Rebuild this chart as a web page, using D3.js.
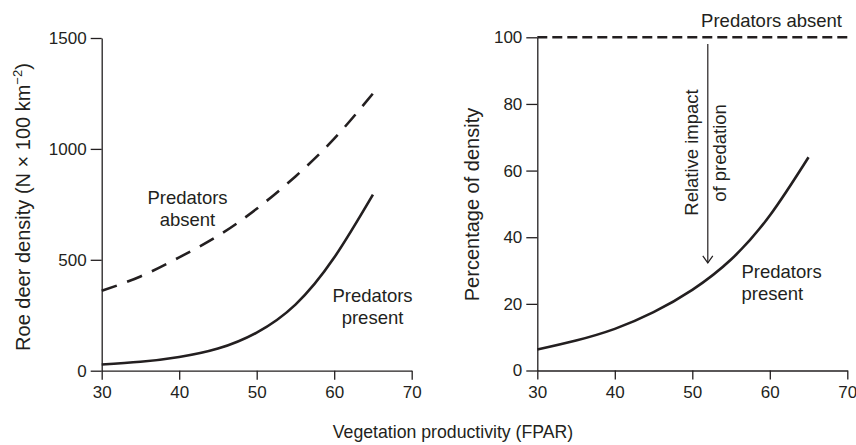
<!DOCTYPE html>
<html>
<head>
<meta charset="utf-8">
<script src="https://cdn.jsdelivr.net/npm/d3@7"></script>
<style>
  body { margin: 0; background: #fff; }
  svg text { font-family: "Liberation Sans", Arial, Helvetica, sans-serif; fill: #231f20; }
</style>
</head>
<body>
<script>
var WIDTH = 856;
var HEIGHT = 445;
var INK = "#231f20";

// x values (FPAR)
var fpar = [30, 35, 40, 45, 50, 55, 60, 65];
// left panel: roe deer density
var densityAbsent = [360, 425, 511, 608, 730, 876, 1046, 1250];
var densityPresent = [28, 40, 62, 100, 172, 298, 510, 794];
// right panel: percentage of density
var pctPresent = [6.3, 9.0, 12.5, 17.5, 24.2, 33.3, 46.5, 64];
var pctAbsentX = [30, 70];
var pctAbsent = [100, 100];

var xTicks = [30, 40, 50, 60, 70];
var leftYTicks = [0, 500, 1000, 1500];
var rightYTicks = [0, 20, 40, 60, 80, 100];

var svg = d3.select("body")
  .append("svg")
  .attr("width", WIDTH)
  .attr("height", HEIGHT);

function toPoints(xs, ys) {
  let arr = [];
  for (let i = 0; i < xs.length; i++) {
    arr.push({ x: xs[i], y: ys[i] });
  }
  return arr;
}

function drawAxes(x, y, yTicks) {
  let fmt = d3.format("d");
  let gx = svg.append("g")
    .attr("transform", "translate(0," + y.range()[0] + ")")
    .call(d3.axisBottom(x).tickValues(xTicks).tickFormat(fmt).tickSize(9).tickSizeOuter(0).tickPadding(6));
  let gy = svg.append("g")
    .attr("transform", "translate(" + x.range()[0] + ",0)")
    .call(d3.axisLeft(y).tickValues(yTicks).tickFormat(fmt).tickSize(11).tickSizeOuter(0).tickPadding(4));
  [gx, gy].forEach(function (g) {
    g.select(".domain").attr("stroke", INK).attr("stroke-width", 1.3);
    g.selectAll(".tick line").attr("stroke", INK).attr("stroke-width", 1.3);
    g.selectAll(".tick text")
      .attr("font-size", 17)
      .attr("fill", INK);
  });
}

function curve(x, y, pts, dash) {
  let line = d3.line()
    .x(function (d) { return x(d.x); })
    .y(function (d) { return y(d.y); })
    .curve(d3.curveNatural);
  let p = svg.append("path")
    .datum(pts)
    .attr("d", line)
    .attr("fill", "none")
    .attr("stroke", INK)
    .attr("stroke-width", 2.6);
  if (dash) p.attr("stroke-dasharray", dash);
  return p;
}

function label(x, y, lines, anchor, size) {
  let t = svg.append("text")
    .attr("text-anchor", anchor)
    .attr("font-size", size);
  lines.forEach(function (s, i) {
    t.append("tspan").attr("x", x).attr("y", y + i * 22).text(s);
  });
}

// ---- left panel ----
var xL = d3.scaleLinear().domain([30, 70]).range([101.7, 411.7]);
var yL = d3.scaleLinear().domain([0, 1500]).range([370.7, 38]);
drawAxes(xL, yL, leftYTicks);
curve(xL, yL, toPoints(fpar, densityAbsent), "16,11");
curve(xL, yL, toPoints(fpar, densityPresent));

label(187.5, 204, ["Predators", "absent"], "middle", 18.5);
label(372.5, 301.5, ["Predators", "present"], "middle", 18.5);

var yt = svg.append("text")
  .attr("transform", "translate(30,207) rotate(-90)")
  .attr("text-anchor", "middle")
  .attr("font-size", 20);
yt.append("tspan").text("Roe deer density (N \u00d7 100 km");
yt.append("tspan").attr("font-size", 13).attr("dy", -8).text("\u22122");
yt.append("tspan").attr("dy", 8).text(")");

// ---- right panel ----
var xR = d3.scaleLinear().domain([30, 70]).range([537.3, 847.3]);
var yR = d3.scaleLinear().domain([0, 100]).range([370.5, 37.3]);
drawAxes(xR, yR, rightYTicks);
curve(xR, yR, toPoints(pctAbsentX, pctAbsent), "10,5");
curve(xR, yR, toPoints(fpar, pctPresent));

label(842, 26.5, ["Predators absent"], "end", 18.5);
label(741.5, 278, ["Predators", "present"], "start", 18.5);

svg.append("text")
  .attr("transform", "translate(479,204.5) rotate(-90)")
  .attr("text-anchor", "middle")
  .attr("font-size", 20)
  .text("Percentage of density");

// arrow showing relative impact
var ax = xR(52);
var tipY = yR(32.3);
svg.append("line")
  .attr("x1", ax).attr("x2", ax)
  .attr("y1", yR(98)).attr("y2", tipY)
  .attr("stroke", INK).attr("stroke-width", 1.2);
svg.append("path")
  .attr("d", "M" + (ax - 5) + "," + (tipY - 7) + "L" + ax + "," + tipY + "L" + (ax + 5) + "," + (tipY - 7))
  .attr("fill", "none")
  .attr("stroke", INK)
  .attr("stroke-width", 1.2);

svg.append("text")
  .attr("transform", "translate(698,152.5) rotate(-90)")
  .attr("text-anchor", "middle")
  .attr("font-size", 18.5)
  .text("Relative impact");
svg.append("text")
  .attr("transform", "translate(726,153) rotate(-90)")
  .attr("text-anchor", "middle")
  .attr("font-size", 18.5)
  .text("of predation");

// shared x title
svg.append("text")
  .attr("x", 453)
  .attr("y", 438)
  .attr("text-anchor", "middle")
  .attr("font-size", 17.7)
  .text("Vegetation productivity (FPAR)");
</script>
</body>
</html>
